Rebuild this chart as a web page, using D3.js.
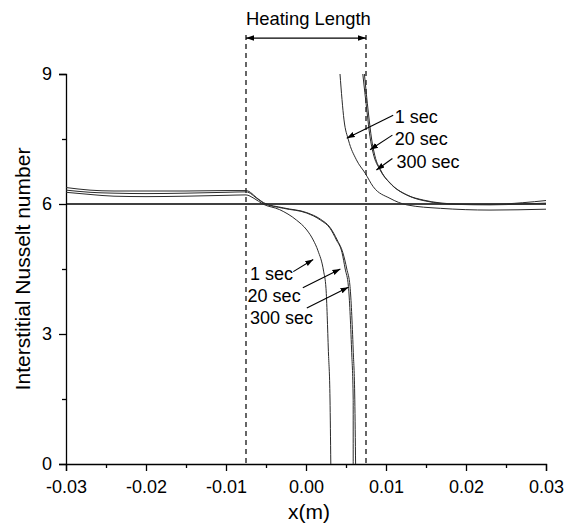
<!DOCTYPE html>
<html><head><meta charset="utf-8">
<script src="https://cdn.jsdelivr.net/npm/d3@7"></script>
<style>body{margin:0;background:#fff}svg{display:block}text{font-family:"Liberation Sans",Arial,sans-serif;fill:#000}</style>
</head><body>
<svg id="c" width="577" height="526"></svg>
<script>
// ---- data (x in m, Nu) ----
const xTickVals = [-0.03,-0.02,-0.01,0,0.01,0.02,0.03];
const xTickLabels = ["-0.03","-0.02","-0.01","0.00","0.01","0.02","0.03"];
const xMinor = [-0.025,-0.015,-0.005,0.005,0.015,0.025];
const yTickVals = [0,3,6,9];
const yTickLabels = ["0","3","6","9"];
const yMinor = [1.5,4.5,7.5];
const heatStart = -0.0075, heatEnd = 0.0075;
const fullyDeveloped = [[-0.03,6],[0.03,6]];

const left1 = [[-0.03,6.27],[-0.027,6.22],[-0.024,6.18],[-0.02,6.17],[-0.015,6.18],[-0.01,6.2],[-0.0075,6.21],[-0.0065,6.13],[-0.0054,6.0],[-0.0033,5.87],[-0.0012,5.63],[0.0001,5.4],[0.0009,5.17],[0.0015,4.92],[0.0022,4.45],[0.0025,4.05],[0.0028,2.6],[0.003,1.5],[0.0031,0]];
const left20 = [[-0.03,6.32],[-0.027,6.27],[-0.024,6.25],[-0.02,6.24],[-0.015,6.25],[-0.01,6.27],[-0.0075,6.28],[-0.006,6.11],[-0.0053,6.02],[-0.0028,5.9],[0.0001,5.79],[0.0018,5.63],[0.003,5.44],[0.0038,5.17],[0.0045,4.88],[0.0049,4.5],[0.0053,4.1],[0.0057,2.63],[0.0059,1.48],[0.0059,0]];
const left300 = [[-0.03,6.38],[-0.027,6.32],[-0.024,6.3],[-0.02,6.3],[-0.015,6.3],[-0.01,6.31],[-0.0075,6.31],[-0.006,6.12],[-0.0053,6.03],[-0.0028,5.91],[0.0001,5.8],[0.0018,5.65],[0.003,5.46],[0.0039,5.17],[0.0046,4.88],[0.0051,4.5],[0.0055,4.1],[0.0059,2.63],[0.0061,1.48],[0.0062,0]];
const right1 = [[0.00425,9],[0.00475,7.94],[0.0053,7.48],[0.0063,7.02],[0.0074,6.71],[0.0084,6.4],[0.0105,6.13],[0.0126,5.98],[0.0168,5.9],[0.023,5.86],[0.03,5.88]];
const right20 = [[0.0071,9],[0.0076,8.17],[0.008,7.55],[0.0084,7.17],[0.00925,6.79],[0.0105,6.48],[0.0126,6.21],[0.0147,6.09],[0.0188,6.0],[0.023,5.99],[0.0271,6.03],[0.03,6.08]];
const right300 = [[0.0073,9],[0.0078,8.1],[0.0082,7.5],[0.0086,7.12],[0.0094,6.76],[0.0107,6.45],[0.0128,6.19],[0.0149,6.07],[0.019,5.99],[0.023,5.98],[0.0271,6.0],[0.03,6.02]];

const labels = [
  {t:"1 sec", x:-0.0070, y:4.24, ax0:-0.00159, ay0:4.44, ax1:0.0009, ay1:4.72},
  {t:"20 sec", x:-0.0073, y:3.75, ax0:-0.0004, ay0:4.07, ax1:0.0043, ay1:4.50},
  {t:"300 sec", x:-0.0070, y:3.22, ax0:0.0001, ay0:3.6, ax1:0.0053, ay1:4.08},
  {t:"1 sec", x:0.0111, y:7.87, ax0:0.0109, ay0:8.05, ax1:0.00509, ay1:7.52},
  {t:"20 sec", x:0.0111, y:7.36, ax0:0.0108, ay0:7.59, ax1:0.008, ay1:7.25},
  {t:"300 sec", x:0.0113, y:6.83, ax0:0.0108, ay0:7.05, ax1:0.0088, ay1:6.785}
];

// ---- scales ----
const svg = d3.select("#c");
const x = d3.scaleLinear().domain([-0.03,0.03]).range([66,546]);
const y = d3.scaleLinear().domain([0,9]).range([464,74]);

svg.append("defs").append("marker").attr("id","ah").attr("viewBox","0 0 10 10")
  .attr("refX",10).attr("refY",5).attr("markerWidth",8).attr("markerHeight",8)
  .attr("markerUnits","userSpaceOnUse").attr("orient","auto-start-reverse")
  .append("path").attr("d","M0,1.5L10,5L0,8.5Z").attr("fill","#000");

// axes
const gx = svg.append("g").attr("transform",`translate(0,${y(0)})`)
  .call(d3.axisBottom(x).tickValues(xTickVals).tickSize(7).tickFormat((d,i)=>xTickLabels[i]));
const gxm = svg.append("g").attr("transform",`translate(0,${y(0)})`)
  .call(d3.axisBottom(x).tickValues(xMinor).tickSize(4).tickFormat(""));
gxm.select(".domain").remove();
const gy = svg.append("g").attr("transform",`translate(${x(-0.03)},0)`)
  .call(d3.axisLeft(y).tickValues(yTickVals).tickSize(7).tickFormat((d,i)=>yTickLabels[i]));
const gym = svg.append("g").attr("transform",`translate(${x(-0.03)},0)`)
  .call(d3.axisLeft(y).tickValues(yMinor).tickSize(4).tickFormat(""));
gym.select(".domain").remove();
[gx,gy,gxm,gym].forEach(g=>{
  g.select(".domain").attr("stroke","#000").attr("stroke-width",1.3);
  g.selectAll(".tick line").attr("stroke","#000").attr("stroke-width",1.3);
  g.selectAll(".tick text").attr("font-size",18).attr("font-family","Liberation Sans, Arial, sans-serif");
});
gx.selectAll(".tick text").attr("dy","1.05em");
gy.selectAll(".tick text").attr("x",-14);

// axis titles
svg.append("text").attr("x",x(0)+3).attr("y",519).attr("text-anchor","middle").attr("font-size",21).text("x(m)");
svg.append("text").attr("transform",`translate(30,${(y(0)+y(9))/2}) rotate(-90)`).attr("text-anchor","middle").attr("font-size",21).text("Interstitial Nusselt number");

// heating length
[heatStart,heatEnd].forEach(v=>{
  svg.append("line").attr("x1",x(v)).attr("x2",x(v)).attr("y1",y(9.9)).attr("y2",y(0))
    .attr("stroke","#000").attr("stroke-width",1.2).attr("stroke-dasharray","5,4");
});
svg.append("line").attr("x1",x(heatStart)).attr("x2",x(heatEnd)).attr("y1",y(9.83)).attr("y2",y(9.83))
  .attr("stroke","#000").attr("stroke-width",1.3).attr("marker-start","url(#ah)").attr("marker-end","url(#ah)");
svg.append("text").attr("x",x(heatStart)).attr("y",y(10.13)).attr("font-size",18.4).text("Heating Length");

// curves
const line = d3.line().x(d=>x(d[0])).y(d=>y(d[1])).curve(d3.curveMonotoneX);
const lineLin = d3.line().x(d=>x(d[0])).y(d=>y(d[1]));
svg.append("path").datum(fullyDeveloped).attr("d",lineLin).attr("fill","none").attr("stroke","#000").attr("stroke-width",1.3);
[left1,left20,left300,right1,right20,right300].forEach(s=>{
  svg.append("path").datum(s).attr("d",line).attr("fill","none").attr("stroke","#2a2a2a").attr("stroke-width",1);
});

// labels + arrows
labels.forEach(l=>{
  svg.append("text").attr("x",x(l.x)).attr("y",y(l.y)).attr("font-size",18).text(l.t);
  svg.append("line").attr("x1",x(l.ax0)).attr("y1",y(l.ay0)).attr("x2",x(l.ax1)).attr("y2",y(l.ay1))
    .attr("stroke","#000").attr("stroke-width",1.1).attr("marker-end","url(#ah)");
});
</script>
</body></html>
